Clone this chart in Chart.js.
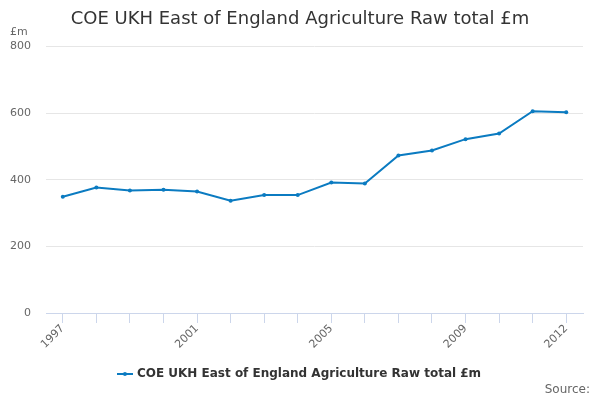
<!DOCTYPE html>
<html>
<head>
<meta charset="utf-8">
<script src="https://cdn.jsdelivr.net/npm/chart.js@4"></script>
<style>
  html, body { margin: 0; padding: 0; background: #fff; }
  #wrap { width: 600px; height: 400px; }
</style>
</head>
<body>
<div id="wrap"><canvas id="grafica" width="600" height="400"></canvas></div>
<script>
// años
var years = ["1997", "1998", "1999", "2000", "2001", "2002", "2003", "2004",
             "2005", "2006", "2007", "2008", "2009", "2010", "2011", "2012"];
// total en £m
var rawTotal = [349, 377, 368, 370, 365, 337, 354, 354,
                392, 389, 473, 488, 522, 539, 606, 603];
var yTicks = [0, 200, 400, 600, 800];
var seriesName = "COE UKH East of England Agriculture Raw total £m";
var chartTitle = "COE UKH East of England Agriculture Raw total £m";

var lineColor = "#0b7bc1";
var fontFam = "'DejaVu Sans', sans-serif";

// simbolo de leyenda: linea con punto
var sym = document.createElement("canvas");
sym.width = 16; sym.height = 6;
var sctx = sym.getContext("2d");
sctx.strokeStyle = lineColor;
sctx.lineWidth = 2;
sctx.beginPath(); sctx.moveTo(0, 3); sctx.lineTo(16, 3); sctx.stroke();
sctx.fillStyle = lineColor;
sctx.beginPath(); sctx.arc(8, 3, 2, 0, Math.PI * 2); sctx.fill();

var extraText = {
    id: "extraText",
    afterDraw: function(chart) {
        var ctx = chart.ctx;
        ctx.save();
        ctx.fillStyle = "#666666";
        ctx.font = "11px " + fontFam;
        ctx.textAlign = "left";
        ctx.textBaseline = "middle";
        ctx.fillText("£m", 10, 32);
        ctx.font = "12px " + fontFam;
        ctx.textAlign = "right";
        ctx.fillText("Source:", 590, 390);
        ctx.restore();
    }
};

var context = document.getElementById("grafica").getContext("2d");
var chart = new Chart(context, {
    type: "line",
    data: {
        labels: years,
        datasets: [{
            label: seriesName,
            data: rawTotal,
            borderColor: lineColor,
            backgroundColor: lineColor,
            borderWidth: 2,
            pointRadius: 2,
            pointBorderWidth: 0,
            pointHoverRadius: 3,
            fill: false,
            tension: 0
        }]
    },
    options: {
        responsive: false,
        animation: false,
        layout: { padding: { left: 0, right: 0, top: 1, bottom: 10 } },
        plugins: {
            title: {
                display: true,
                text: chartTitle,
                color: "#333333",
                font: { family: fontFam, size: 18, weight: "normal" },
                padding: { top: 8, bottom: 16 }
            },
            legend: {
                position: "bottom",
                labels: {
                    usePointStyle: true,
                    pointStyle: sym,
                    color: "#333333",
                    font: { family: fontFam, size: 12, weight: "bold" },
                    padding: 10
                }
            },
            tooltip: { enabled: false }
        },
        scales: {
            x: {
                offset: true,
                grid: {
                    display: true,
                    drawOnChartArea: false,
                    drawTicks: true,
                    tickLength: 10,
                    color: "#ccd6eb",
                    offset: false
                },
                border: { color: "#ccd6eb" },
                ticks: {
                    autoSkip: false,
                    maxRotation: 45,
                    minRotation: 45,
                    color: "#666666",
                    font: { family: fontFam, size: 11 },
                    padding: -1,
                    callback: function(val, i) {
                        if (i % 4 === 0 || i === years.length - 1) return years[i];
                        return "";
                    }
                },
                afterFit: function(scale) { scale.height = 45; }
            },
            y: {
                min: 0,
                max: 800,
                afterBuildTicks: function(scale) {
                    scale.ticks = yTicks.map(function(v) { return { value: v }; });
                },
                grid: { color: "#e6e6e6", drawTicks: false },
                border: { display: false },
                ticks: {
                    color: "#666666",
                    font: { family: fontFam, size: 11 },
                    padding: 15
                },
                afterFit: function(scale) { scale.width = 46; }
            },
            // eje vacio a la derecha, solo reserva margen
            yRight: {
                position: "right",
                display: true,
                grid: { display: false, drawTicks: false },
                border: { display: false },
                ticks: { display: false },
                afterFit: function(scale) { scale.width = 17; }
            }
        }
    },
    plugins: [extraText]
});
</script>
</body>
</html>
